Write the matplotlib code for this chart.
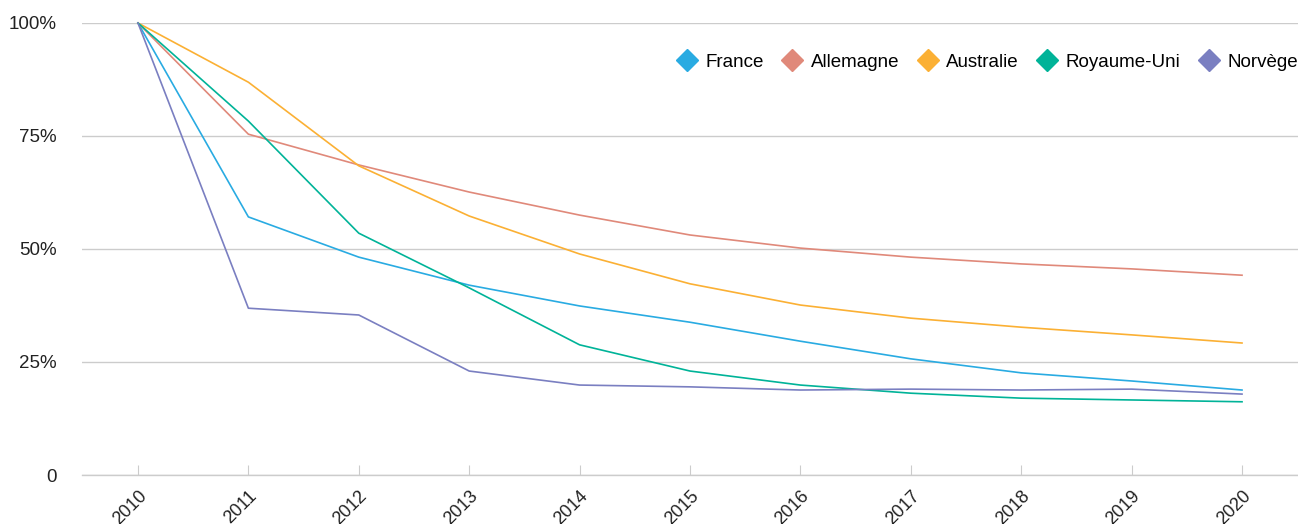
import numpy as np
import matplotlib.pyplot as plt
from matplotlib.lines import Line2D

plt.rcParams['font.family'] = ['Liberation Sans', 'DejaVu Sans']

years = list(range(2010, 2021))
france = [100, 57.1, 48.2, 42.0, 37.4, 33.8, 29.6, 25.7, 22.6, 20.8, 18.8]
allemagne = [100, 75.4, 68.6, 62.6, 57.5, 53.1, 50.2, 48.2, 46.7, 45.6, 44.2]
australie = [100, 86.9, 68.4, 57.3, 48.9, 42.3, 37.6, 34.7, 32.7, 31.0, 29.2]
royaume_uni = [100, 78.3, 53.5, 41.4, 28.8, 23.0, 19.9, 18.1, 17.0, 16.6, 16.2]
norvege = [100, 36.9, 35.4, 23.0, 19.9, 19.5, 18.8, 19.0, 18.8, 19.0, 17.9]

series = [("France", france, "#29abe2"),
          ("Allemagne", allemagne, "#e0897a"),
          ("Australie", australie, "#fbb034"),
          ("Royaume-Uni", royaume_uni, "#00b398"),
          ("Norvège", norvege, "#7a7fc1")]

fig = plt.figure(figsize=(12.98, 5.24), dpi=100)
ax = fig.add_axes([82/1298, 1 - 475/524, 1 - 82/1298, (475 - 23)/524])

for name, vals, col in series:
    ax.plot(years, vals, color=col, linewidth=1.2, clip_on=False, zorder=3)

ax.set_xlim(2009.493, 2020.507)
ax.set_ylim(0, 100)
ax.set_yticks([0, 25, 50, 75, 100])
ax.set_yticklabels(["0", "25%", "50%", "75%", "100%"], fontsize=13.5, color="#222222")
ax.set_xticks(years)
ax.set_xticklabels([str(y) for y in years], rotation=45, ha="right",
                   rotation_mode="anchor", fontsize=13, color="#222222")
ax.grid(axis="y", color="#cccccc", linewidth=1)
ax.set_axisbelow(True)
for s in ["top", "right", "left"]:
    ax.spines[s].set_visible(False)
ax.spines["bottom"].set_color("#cccccc")
ax.spines["bottom"].set_linewidth(1)
ax.tick_params(axis="x", direction="in", length=7, color="#cccccc", pad=9)
ax.tick_params(axis="y", length=0, pad=18)

handles = [Line2D([], [], marker="D", linestyle="none", markersize=11,
                  markerfacecolor=col, markeredgecolor=col) for _, _, col in series]
ax.legend(handles, [s[0] for s in series], loc="center right", ncol=5, frameon=False,
          fontsize=13.5, bbox_to_anchor=(1.0, 1 - 39/452), borderaxespad=0,
          borderpad=0, handletextpad=0.3, handlelength=1.4, columnspacing=0.8)

plt.savefig("out.png", dpi=100)
